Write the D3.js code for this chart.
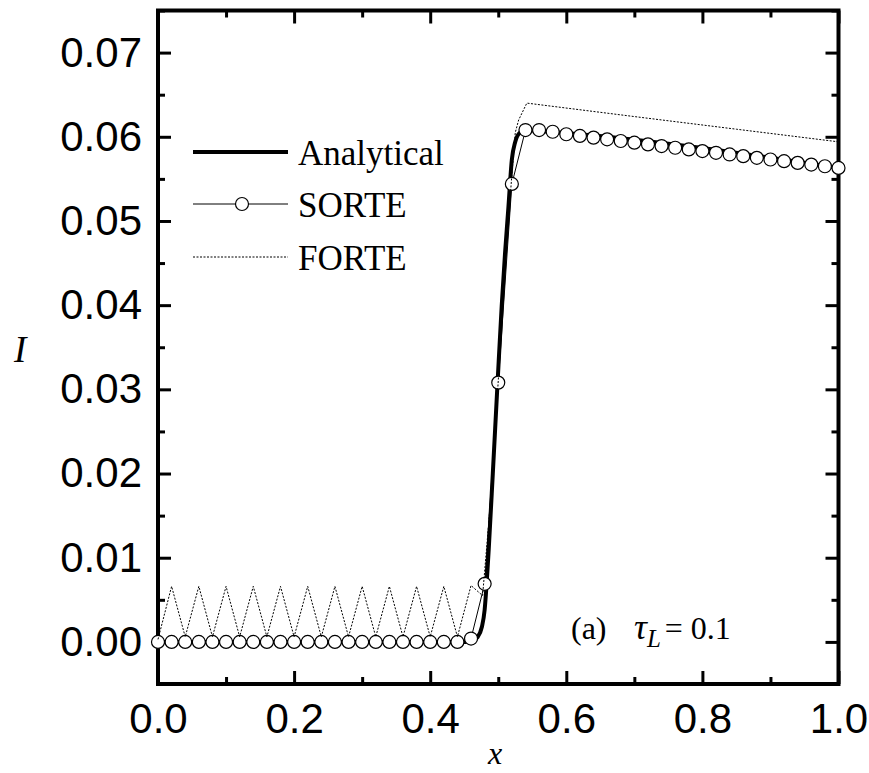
<!DOCTYPE html>
<html>
<head>
<meta charset="utf-8">
<script src="https://cdn.jsdelivr.net/npm/d3@7"></script>
<style>
  body { margin: 0; background: #fff; }
  svg { display: block; }
</style>
</head>
<body>
<svg id="chart"></svg>
<script>
(function () {
    'use strict';

    // --- data ---
    const analyticalX = [0, 0.46, 0.469, 0.476, 0.480, 0.483, 0.486, 0.492, 0.499, 0.505, 0.510, 0.515, 0.520, 0.525, 0.532, 0.541, 0.56, 1.0];
    const analyticalY = [0, 0, 0.0005, 0.0018, 0.0038, 0.0070, 0.0110, 0.0200, 0.0308, 0.0398, 0.0462, 0.0517, 0.0573, 0.0594, 0.0605, 0.0608, 0.0607, 0.0563];

    const sorteX = [0.00, 0.02, 0.04, 0.06, 0.08, 0.10, 0.12, 0.14, 0.16, 0.18, 0.20, 0.22, 0.24, 0.26, 0.28, 0.30, 0.32,
        0.34, 0.36, 0.38, 0.40, 0.42, 0.44, 0.46, 0.48, 0.50, 0.52, 0.54, 0.56, 0.58, 0.60, 0.62, 0.64, 0.66, 0.68,
        0.70, 0.72, 0.74, 0.76, 0.78, 0.80, 0.82, 0.84, 0.86, 0.88, 0.90, 0.92, 0.94, 0.96, 0.98, 1.00];
    const sorteY = [0, 0, 0, 0, 0, 0, 0, 0, 0, 0, 0, 0, 0, 0, 0, 0, 0,
        0, 0, 0, 0, 0, 0, 0.0004, 0.0069, 0.0308, 0.0544, 0.0608, 0.0608, 0.0606, 0.0603, 0.0601, 0.0599, 0.0597, 0.0595,
        0.0593, 0.0591, 0.0589, 0.0587, 0.0585, 0.0583, 0.0581, 0.0579, 0.0577, 0.0575, 0.0573, 0.0571, 0.0569, 0.0567, 0.0565, 0.0563];

    const forteX = [0.00, 0.02, 0.04, 0.06, 0.08, 0.10, 0.12, 0.14, 0.16, 0.18, 0.20, 0.22, 0.24, 0.26, 0.28, 0.30, 0.32,
        0.34, 0.36, 0.38, 0.40, 0.42, 0.44, 0.46, 0.477, 0.49, 0.50, 0.51, 0.515, 0.52, 0.525, 0.53, 0.542, 0.70, 0.85, 1.00];
    const forteY = [0.0003, 0.0066, 0.0006, 0.0066, 0.0006, 0.0066, 0.0006, 0.0066, 0.0006, 0.0066, 0.0006, 0.0066, 0.0006, 0.0066, 0.0006, 0.0066, 0.0006,
        0.0066, 0.0006, 0.0066, 0.0006, 0.0066, 0.0006, 0.0067, 0.0055, 0.0180, 0.0310, 0.0450, 0.0500, 0.0555, 0.0605, 0.0620, 0.0640, 0.0624, 0.0609, 0.0594];

    const xMajorTicks = [0.0, 0.2, 0.4, 0.6, 0.8, 1.0];
    const xMinorTicks = [0.1, 0.3, 0.5, 0.7, 0.9];
    const yMajorTicks = [0.00, 0.01, 0.02, 0.03, 0.04, 0.05, 0.06, 0.07];
    const yMinorTicks = [-0.005, 0.005, 0.015, 0.025, 0.035, 0.045, 0.055, 0.065, 0.075];

    const legendNames = ["Analytical", "SORTE", "FORTE"];

    // --- layout ---
    const width = 869, height = 773;
    const left = 158, right = 838.5, top = 10.5, bottom = 684;
    const sans = "'Liberation Sans', Arial, Helvetica, sans-serif";
    const serif = "'Liberation Serif', 'Times New Roman', Times, serif";

    const x = d3.scaleLinear().domain([0, 1]).range([left, right]);
    const y = d3.scaleLinear().domain([-0.005, 0.075]).range([bottom, top]);

    const svg = d3.select('#chart')
        .attr("width", width)
        .attr("height", height);

    // axes: ticks pointing inward, no domain path (frame drawn below)
    function styleAxis(g) {
        g.select(".domain").remove();
        g.selectAll(".tick line").attr("stroke", "#000").attr("stroke-width", 3);
        g.selectAll(".tick text")
            .attr("fill", "#000")
            .style("font-family", sans)
            .style("font-size", "42px");
    }

    const axes = [
        [d3.axisBottom(x), `translate(0,${bottom})`, xMajorTicks, xMinorTicks, d3.format(".1f")],
        [d3.axisTop(x), `translate(0,${top})`, xMajorTicks, xMinorTicks, null],
        [d3.axisLeft(y), `translate(${left},0)`, yMajorTicks, yMinorTicks, d3.format(".2f")],
        [d3.axisRight(y), `translate(${right},0)`, yMajorTicks, yMinorTicks, null]
    ];
    axes.forEach(([axis, tr, major, minor, fmt]) => {
        const isX = axis.scale() === x;
        svg.append("g").attr("transform", tr)
            .call(axis.tickValues(minor).tickSizeInner(-7).tickSizeOuter(0).tickFormat(""))
            .call(styleAxis);
        svg.append("g").attr("transform", tr)
            .call(axis.tickValues(major).tickSizeInner(-13).tickSizeOuter(0)
                .tickPadding(isX ? 19 : 16)
                .tickFormat(fmt ? fmt : ""))
            .call(styleAxis);
    });

    // frame
    svg.append("rect")
        .attr("x", left).attr("y", top)
        .attr("width", right - left).attr("height", bottom - top)
        .attr("fill", "none").attr("stroke", "#000").attr("stroke-width", 4);

    const plot = svg.append("g");

    const line = d3.line().x(d => x(d[0])).y(d => y(d[1]));
    const smooth = d3.line().x(d => x(d[0])).y(d => y(d[1])).curve(d3.curveMonotoneX);

    const analytical = analyticalX.map((v, i) => [v, analyticalY[i]]);
    const sorte = sorteX.map((v, i) => [v, sorteY[i]]);
    const forte = forteX.map((v, i) => [v, forteY[i]]);

    plot.append("path").datum(analytical)
        .attr("d", smooth)
        .attr("fill", "none").attr("stroke", "#000").attr("stroke-width", 4);

    plot.append("path").datum(sorte)
        .attr("d", line)
        .attr("fill", "none").attr("stroke", "#000").attr("stroke-width", 1);

    plot.append("g").selectAll("circle")
        .data(sorte)
        .join("circle")
        .attr("cx", d => x(d[0]))
        .attr("cy", d => y(d[1]))
        .attr("r", 6.5)
        .attr("fill", "#fff").attr("stroke", "#000").attr("stroke-width", 1.2);

    plot.append("path").datum(forte)
        .attr("d", line)
        .attr("fill", "none").attr("stroke", "#000").attr("stroke-width", 1)
        .attr("stroke-dasharray", "2,1.5");

    // legend
    const legend = svg.append("g").style("font-family", serif).style("font-size", "35px");
    const rowY = [152, 204, 257];
    legendNames.forEach((name, i) => {
        const g = legend.append("g").attr("transform", `translate(0,${rowY[i]})`);
        const l = g.append("line").attr("x1", 193).attr("x2", 288).attr("y1", 0).attr("y2", 0)
            .attr("stroke", "#000");
        if (i === 0) l.attr("stroke-width", 4);
        if (i === 1) {
            l.attr("stroke-width", 1);
            g.append("circle").attr("cx", 242).attr("cy", 0).attr("r", 6.5)
                .attr("fill", "#fff").attr("stroke", "#000").attr("stroke-width", 1.2);
        }
        if (i === 2) l.attr("stroke-width", 1).attr("stroke-dasharray", "2,1.5");
        g.append("text").attr("x", 298).attr("y", 13).attr("fill", "#000").text(name);
    });

    // annotation
    const note = svg.append("text")
        .attr("x", 571).attr("y", 639)
        .style("font-family", serif).style("font-size", "32px").attr("fill", "#000");
    note.append("tspan").text("(a)");
    note.append("tspan").attr("x", 634).style("font-style", "italic").style("font-size", "36px").text("τ");
    note.append("tspan").attr("dy", 8).style("font-style", "italic").style("font-size", "25px").text("L");
    note.append("tspan").attr("dy", -8).attr("dx", 4).text("= 0.1");

    // axis titles
    svg.append("text")
        .attr("x", 495).attr("y", 764)
        .attr("text-anchor", "middle")
        .style("font-family", serif).style("font-style", "italic").style("font-size", "32px")
        .text("x");
    svg.append("text")
        .attr("x", 14).attr("y", 362)
        .style("font-family", serif).style("font-style", "italic").style("font-size", "37px")
        .text("I");
}());
</script>
</body>
</html>
